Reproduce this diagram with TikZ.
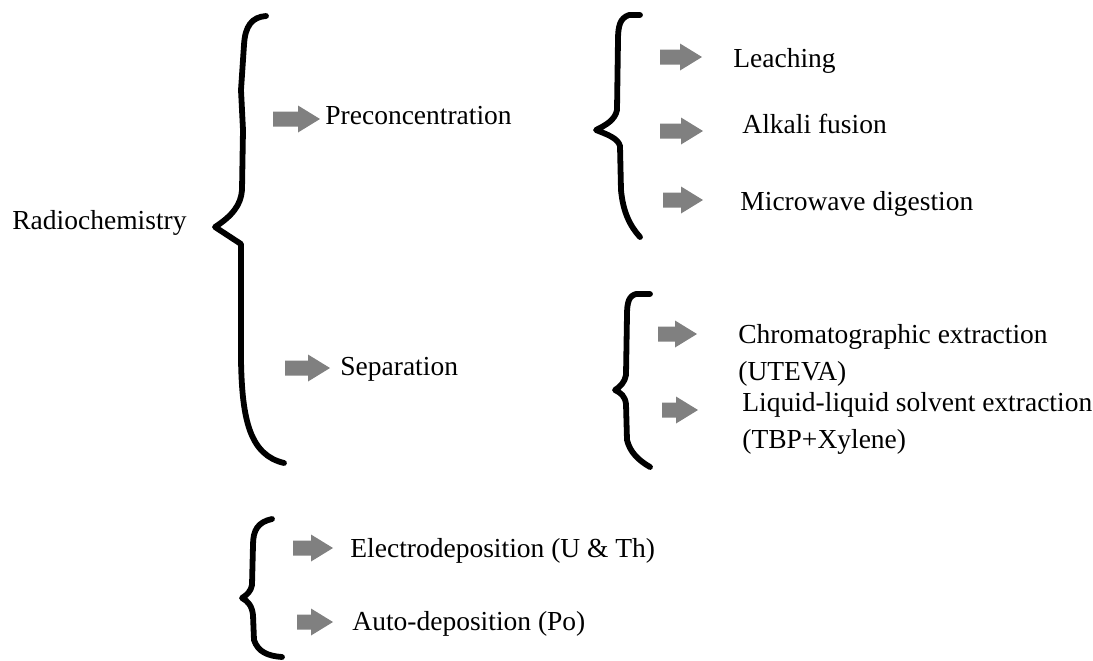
\documentclass[tikz,border=0pt]{standalone}
\usepackage{fontspec}
\setmainfont{Liberation Serif}
\begin{document}
\begin{tikzpicture}[x=0.5pt,y=-0.5pt,
  lbl/.style={anchor=base west,inner sep=0pt,font=\fontsize{13.75}{18.5}\selectfont,align=left},
  brace/.style={line width=2.9pt,black,line cap=round,line join=round},
  arrowfill/.style={fill=black!50}]
\useasboundingbox (0,0) rectangle (1093,660);
\newcommand{\grarrow}[3]{\fill[arrowfill] (#1,#3-7.5) -- (#2-22,#3-7.5) -- (#2-22,#3-13.5) -- (#2,#3) -- (#2-22,#3+13.5) -- (#2-22,#3+7.5) -- (#1,#3+7.5) -- cycle;}

% texts (multi-line nodes: base is the baseline of the last line)
\node[lbl] (radio) at (12,229) {Radiochemistry};
\node[lbl] (pre) at (325,124) {Preconcentration};
\node[lbl] (sep) at (340,375) {Separation};
\node[lbl] (leach) at (733,67) {Leaching};
\node[lbl] (alk) at (742,133) {Alkali fusion};
\node[lbl] (micro) at (740,210) {Microwave digestion};
\node[lbl] (chrom) at (738,380) {Chromatographic extraction\\(UTEVA)};
\node[lbl] (liq) at (742,448) {Liquid-liquid solvent extraction\\(TBP+Xylene)};
\node[lbl] (electro) at (350,557) {Electrodeposition (U \& Th)};
\node[lbl] (auto) at (352,630) {Auto-deposition (Po)};

% arrows
\grarrow{273}{320}{119}
\grarrow{285}{330}{368}
\grarrow{660}{702}{57}
\grarrow{660}{703}{131}
\grarrow{663}{703}{200}
\grarrow{658}{697}{334}
\grarrow{662}{698}{410}
\grarrow{293}{333}{548}
\grarrow{297}{333}{622}

% braces
\draw[brace] (266,16) .. controls (252,17) and (245,26) .. (244,45)
  -- (241,90) -- (243,130) -- (242,190)
  .. controls (241,205) and (232,216) .. (215,227)
  -- (241,244) -- (241,300) -- (241,360)
  .. controls (242,420) and (250,455) .. (284,463);
\draw[brace] (640,15) -- (629,15) .. controls (620,18) and (618,26) .. (618,40)
  -- (617,110) .. controls (615,120) and (606,125) .. (596,130)
  .. controls (606,134) and (618,138) .. (620,146)
  -- (621,190) .. controls (623,212) and (630,226) .. (640,237);
\draw[brace] (650,294) -- (636,294) .. controls (629,296) and (627,302) .. (627,315)
  -- (626,375) .. controls (625,382) and (620,387) .. (615,390)
  .. controls (621,393) and (625,396) .. (626,404)
  -- (627,440) .. controls (630,452) and (638,460) .. (650,467);
\draw[brace] (272,519) .. controls (258,522) and (253,530) .. (253,545)
  -- (252,585) .. controls (251,591) and (247,595) .. (242,598)
  .. controls (248,601) and (252,606) .. (253,615)
  -- (254,640) .. controls (258,652) and (268,656) .. (282,657);
\end{tikzpicture}
\end{document}
